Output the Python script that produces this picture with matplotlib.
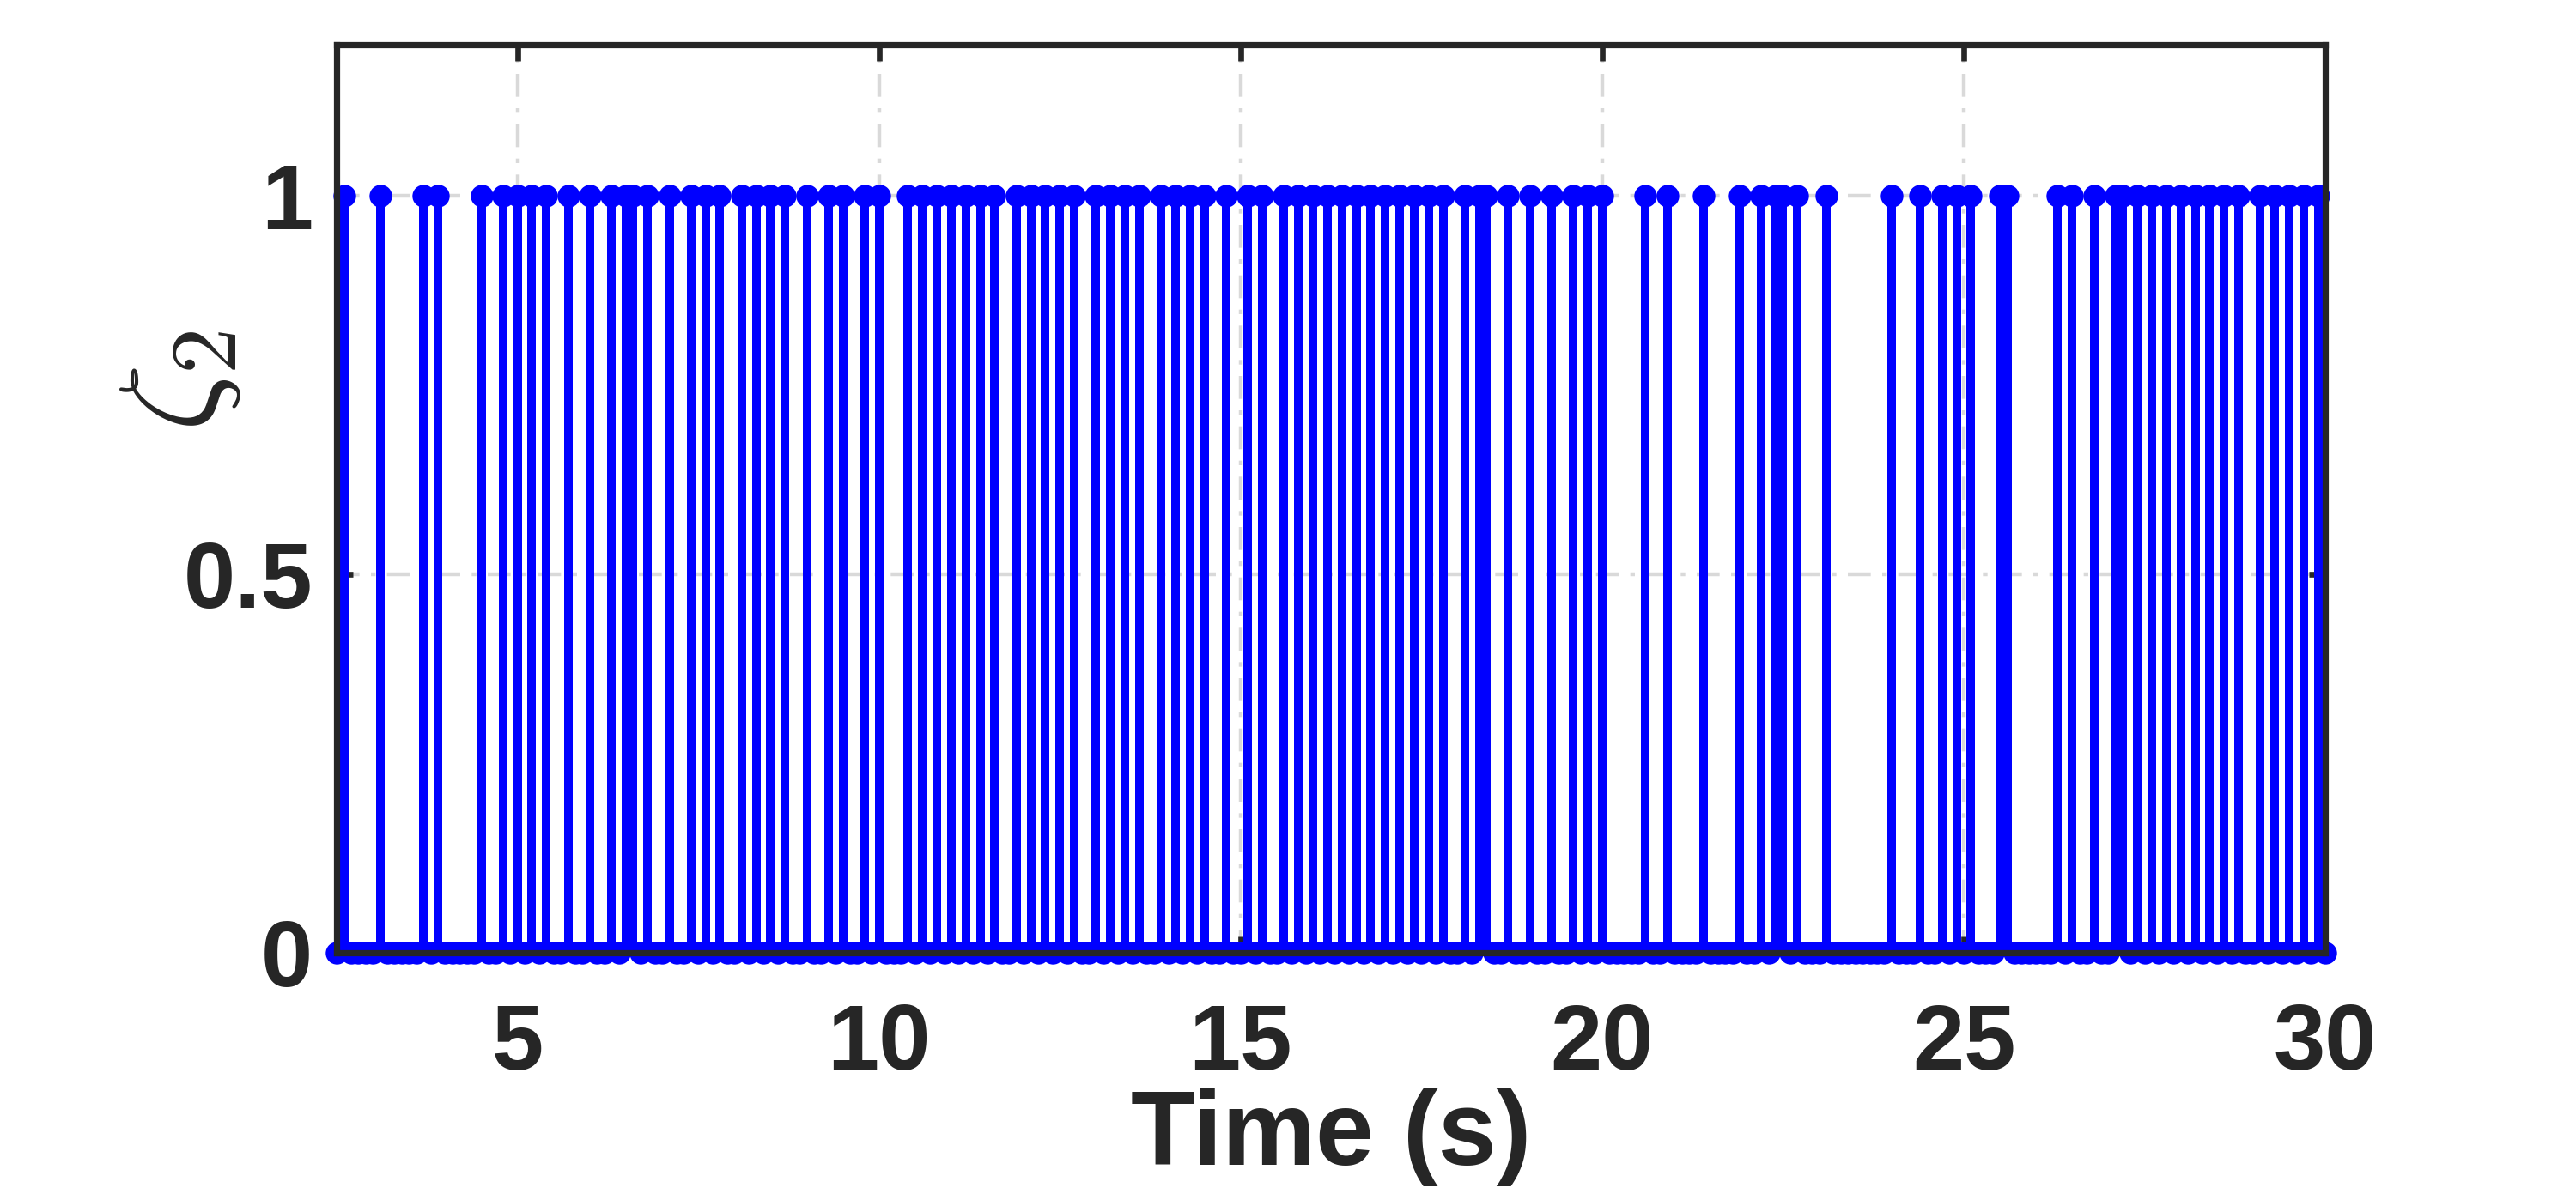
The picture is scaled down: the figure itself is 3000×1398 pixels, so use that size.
import numpy as np
import matplotlib
matplotlib.use("Agg")
import matplotlib.pyplot as plt

plt.rcParams['font.family'] = ['Liberation Sans', 'DejaVu Sans']
plt.rcParams['mathtext.fontset'] = 'cm'

# sampling of the switching signal
t_start = 2.5
t_end = 30.0
sample_period = 0.1

# instants where zeta_2 = 1
pulse_times = [2.6, 3.1, 3.7, 3.9, 4.5, 4.8, 5.0, 5.2, 5.4, 5.7, 6.0, 6.3, 6.5, 6.6,
               6.8, 7.1, 7.4, 7.6, 7.8, 8.1, 8.3, 8.5, 8.7, 9.0, 9.3, 9.5, 9.8, 10.0,
               10.4, 10.6, 10.8, 11.0, 11.2, 11.4, 11.6, 11.9, 12.1, 12.3, 12.5, 12.7,
               13.0, 13.2, 13.4, 13.6, 13.9, 14.1, 14.3, 14.5, 14.8, 15.1, 15.3, 15.6,
               15.8, 16.0, 16.2, 16.4, 16.6, 16.8, 17.0, 17.2, 17.4, 17.6, 17.8, 18.1,
               18.3, 18.4, 18.7, 19.0, 19.3, 19.6, 19.8, 20.0, 20.6, 20.9, 21.4, 21.9,
               22.2, 22.4, 22.5, 22.7, 23.1, 24.0, 24.4, 24.7, 24.9, 25.1, 25.5, 25.6,
               26.3, 26.5, 26.8, 27.1, 27.2, 27.4, 27.6, 27.8, 28.0, 28.2, 28.4, 28.6,
               28.8, 29.1, 29.3, 29.5, 29.7, 29.9]

x_ticks = [5, 10, 15, 20, 25, 30]
y_ticks = [0, 0.5, 1]
y_tick_labels = ['0', '0.5', '1']

# build the sampled signal
n = int(round((t_end - t_start) / sample_period)) + 1
t = np.round(t_start + sample_period * np.arange(n), 1)
zeta2 = np.isin(t, np.round(pulse_times, 1)).astype(float)

fig = plt.figure(figsize=(15, 6.99), dpi=200)
ax = fig.add_axes([0.1307, 0.206, 0.772, 0.757])

markerline, stemlines, baseline = ax.stem(t, zeta2, basefmt=' ')
plt.setp(stemlines, color='#0000ff', linewidth=3.6)
plt.setp(markerline, color='#0000ff', markersize=8.5, marker='o')
markerline.set_clip_on(False)  # the zero markers hang over the bottom axis like in MATLAB

ax.set_xlim(t_start, t_end)
ax.set_ylim(0, 1.2)
ax.set_xticks(x_ticks)
ax.set_xticklabels([str(v) for v in x_ticks])
ax.set_yticks(y_ticks)
ax.set_yticklabels(y_tick_labels)

ax.grid(True, color='#d9d9d9', linestyle=(0, (6, 3, 1.2, 3)), linewidth=1.6)
ax.set_axisbelow(True)

for s in ax.spines.values():
    s.set_linewidth(2.6)
    s.set_color('#262626')
    s.set_zorder(5)

ax.tick_params(axis='both', direction='in', length=7, width=2.4, color='#262626',
               top=True, right=True, labelsize=39, labelcolor='#262626')
ax.tick_params(axis='x', pad=21)
ax.tick_params(axis='y', pad=10)
for lab in ax.get_xticklabels() + ax.get_yticklabels():
    lab.set_fontweight('bold')

ax.set_xlabel('Time (s)', fontsize=44, fontweight='bold', color='#262626', labelpad=0)
ax.set_ylabel(r'$\zeta_{\mathbf{2}}$', fontsize=56, color='#262626')
ax.yaxis.set_label_coords(-0.047, 0.63)

fig.savefig('out.png', dpi=200)
